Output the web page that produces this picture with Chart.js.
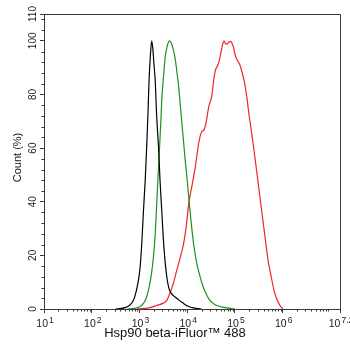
<!DOCTYPE html>
<html>
<head>
<meta charset="utf-8">
<script src="https://cdn.jsdelivr.net/npm/chart.js@4.4.0/dist/chart.umd.min.js"></script>
<style>
  html, body { margin: 0; padding: 0; background: #fff; }
</style>
</head>
<body>
<canvas id="histChart" width="350" height="344"></canvas>
<script>
// log10 of fluorescence intensity, and count (%) for each histogram
const blackLog = [2.5, 2.62, 2.7, 2.78, 2.85, 2.9, 2.96, 3.01, 3.05, 3.08, 3.12, 3.15, 3.18, 3.2, 3.23, 3.256, 3.28, 3.3, 3.33, 3.36, 3.4, 3.43, 3.47, 3.5, 3.54, 3.58, 3.62, 3.66, 3.7, 3.76, 3.82, 3.9, 3.96, 4.02, 4.1, 4.2, 4.3];
const blackPct = [0, 0.2, 0.5, 1.2, 2.5, 4.5, 9, 15, 25, 35.6, 48, 60, 74, 85, 95, 100, 97, 92, 85, 72, 60, 48, 35.6, 26, 17, 11, 7.5, 6, 5.2, 4.3, 3.4, 2.4, 1.6, 1.0, 0.5, 0.2, 0];

const greenLog = [2.75, 2.88, 2.96, 3.02, 3.08, 3.14, 3.2, 3.25, 3.29, 3.33, 3.36, 3.39, 3.42, 3.45, 3.47, 3.51, 3.54, 3.58, 3.63, 3.67, 3.71, 3.75, 3.78, 3.82, 3.85, 3.89, 3.92, 3.96, 4.0, 4.04, 4.09, 4.14, 4.2, 4.27, 4.33, 4.4, 4.47, 4.55, 4.65, 4.77, 4.9, 5.0];
const greenPct = [0, 0.2, 0.5, 1, 2, 4, 8, 13, 19, 28, 39, 50, 60, 71, 79, 88, 94, 98, 100, 99, 96.6, 93, 89, 83, 77, 69, 63, 55, 48, 40, 31, 23.5, 17, 12, 8.5, 5.5, 3.3, 2, 1.1, 0.6, 0.2, 0];

const redLog = [2.95, 3.1, 3.2, 3.36, 3.5, 3.57, 3.64, 3.7, 3.78, 3.85, 3.92, 3.98, 4.03, 4.1, 4.17, 4.24, 4.3, 4.35, 4.4, 4.45, 4.51, 4.56, 4.59, 4.63, 4.67, 4.71, 4.74, 4.77, 4.8, 4.83, 4.87, 4.91, 4.94, 4.97, 5.0, 5.04, 5.09, 5.13, 5.19, 5.24, 5.3, 5.35, 5.4, 5.45, 5.5, 5.55, 5.6, 5.65, 5.7, 5.76, 5.81, 5.86, 5.92, 5.97, 6.0];
const redPct = [0, 0.2, 0.4, 1.3, 2.2, 3.1, 6, 9, 14.4, 19, 24, 31, 39, 46, 53, 61.8, 66, 66.8, 70, 75.4, 79, 86, 89, 90.5, 92.5, 96, 98.5, 100, 99, 98.8, 99.5, 99.8, 99, 97.5, 95, 93, 91.5, 89.5, 85.3, 80, 71.7, 65.5, 59, 52, 45, 38, 31, 24, 17.5, 12, 7.5, 4.5, 2, 0.7, 0];

// tick labels
const xTickExps = ["1", "2", "3", "4", "5", "6", "7.2"];
const yTicks = [0, 20, 40, 60, 80, 100, 110];
const xTitle = "Hsp90 beta-iFluor\u2122 488";
const yTitle = "Count (%)";

const FONT = '"Liberation Sans", Arial, sans-serif';
const AXIS = "#3a3a3a";

const pairs = (xs, ys) => xs.map((v, i) => ({ x: v, y: ys[i] }));

// frame, minor ticks, tick labels and axis titles
const axisExtras = {
  id: "axisExtras",
  afterDraw(chart) {
    const { ctx, chartArea: a } = chart;
    const x = chart.scales.x, y = chart.scales.y;
    ctx.save();
    ctx.strokeStyle = AXIS;
    ctx.lineWidth = 1;
    ctx.beginPath();
    ctx.moveTo(a.left, Math.round(a.top) + 0.5);
    ctx.lineTo(Math.round(a.right) + 0.5, Math.round(a.top) + 0.5);
    ctx.lineTo(Math.round(a.right) + 0.5, a.bottom);
    ctx.stroke();

    // minor ticks
    ctx.beginPath();
    for (let n = 1; n < 7; n++) {
      for (let k = 2; k <= 9; k++) {
        const px = Math.round(x.getPixelForValue(n + Math.log10(k))) + 0.5;
        ctx.moveTo(px, a.bottom);
        ctx.lineTo(px, a.bottom + 2.5);
      }
    }
    for (let v = 4; v < 110; v += 4) {
      if (v % 20 === 0) continue;
      const py = Math.round(y.getPixelForValue(v)) + 0.5;
      ctx.moveTo(a.left - 2.5, py);
      ctx.lineTo(a.left, py);
    }
    ctx.stroke();

    ctx.fillStyle = "#222";
    ctx.textBaseline = "alphabetic";
    // x tick labels: 10 with superscript exponent
    xTickExps.forEach(e => {
      const px = x.getPixelForValue(parseFloat(e));
      ctx.font = "10.5px " + FONT;
      const w1 = ctx.measureText("10").width;
      ctx.font = "8.5px " + FONT;
      const w2 = ctx.measureText(e).width;
      const start = px - (w1 + 1 + w2) / 2 + 1;
      ctx.textAlign = "left";
      ctx.font = "10.5px " + FONT;
      ctx.fillText("10", start, 326.5);
      ctx.font = "8.5px " + FONT;
      ctx.fillText(e, start + w1 + 1, 322.5);
    });

    // y tick labels, rotated
    ctx.font = "10px " + FONT;
    ctx.textAlign = "center";
    yTicks.forEach(v => {
      const py = y.getPixelForValue(v);
      ctx.save();
      ctx.translate(35.5, py);
      ctx.rotate(-Math.PI / 2);
      ctx.fillText(String(v), 0, 0);
      ctx.restore();
    });

    // axis titles
    ctx.fillStyle = "#111";
    ctx.font = "13px " + FONT;
    ctx.textAlign = "center";
    ctx.fillText(xTitle, 175, 336.5);
    ctx.font = "11px " + FONT;
    ctx.save();
    ctx.translate(21, 157.5);
    ctx.rotate(-Math.PI / 2);
    ctx.fillText(yTitle, 0, 0);
    ctx.restore();
    ctx.restore();
  }
};

const ctx = document.getElementById("histChart").getContext("2d");
new Chart(ctx, {
  type: "line",
  data: {
    datasets: [
      { label: "black", data: pairs(blackLog, blackPct), borderColor: "#000000" },
      { label: "green", data: pairs(greenLog, greenPct), borderColor: "#1e901e" },
      { label: "red", data: pairs(redLog, redPct), borderColor: "#f22424" },
    ].map(d => Object.assign(d, {
      borderWidth: 1.2,
      pointRadius: 0,
      fill: false,
      cubicInterpolationMode: "monotone",
    })),
  },
  options: {
    responsive: false,
    animation: false,
    layout: { padding: { top: 14, right: 10, left: 0, bottom: 0 } },
    plugins: {
      legend: { display: false },
      tooltip: { enabled: false },
    },
    scales: {
      x: {
        type: "linear",
        min: 1,
        max: 7.2,
        afterBuildTicks: s => { s.ticks = xTickExps.map(e => ({ value: parseFloat(e) })); },
        afterFit: s => { s.height = 35; },
        ticks: { display: false },
        grid: { drawOnChartArea: false, drawTicks: true, tickLength: 4, color: AXIS },
        border: { display: true, color: AXIS, width: 1 },
      },
      y: {
        type: "linear",
        min: 0,
        max: 110,
        afterBuildTicks: s => { s.ticks = yTicks.map(v => ({ value: v })); },
        afterFit: s => { s.width = 44; },
        ticks: { display: false },
        grid: { drawOnChartArea: false, drawTicks: true, tickLength: 4, color: AXIS },
        border: { display: true, color: AXIS, width: 1 },
      },
    },
  },
  plugins: [axisExtras],
});
</script>
</body>
</html>
